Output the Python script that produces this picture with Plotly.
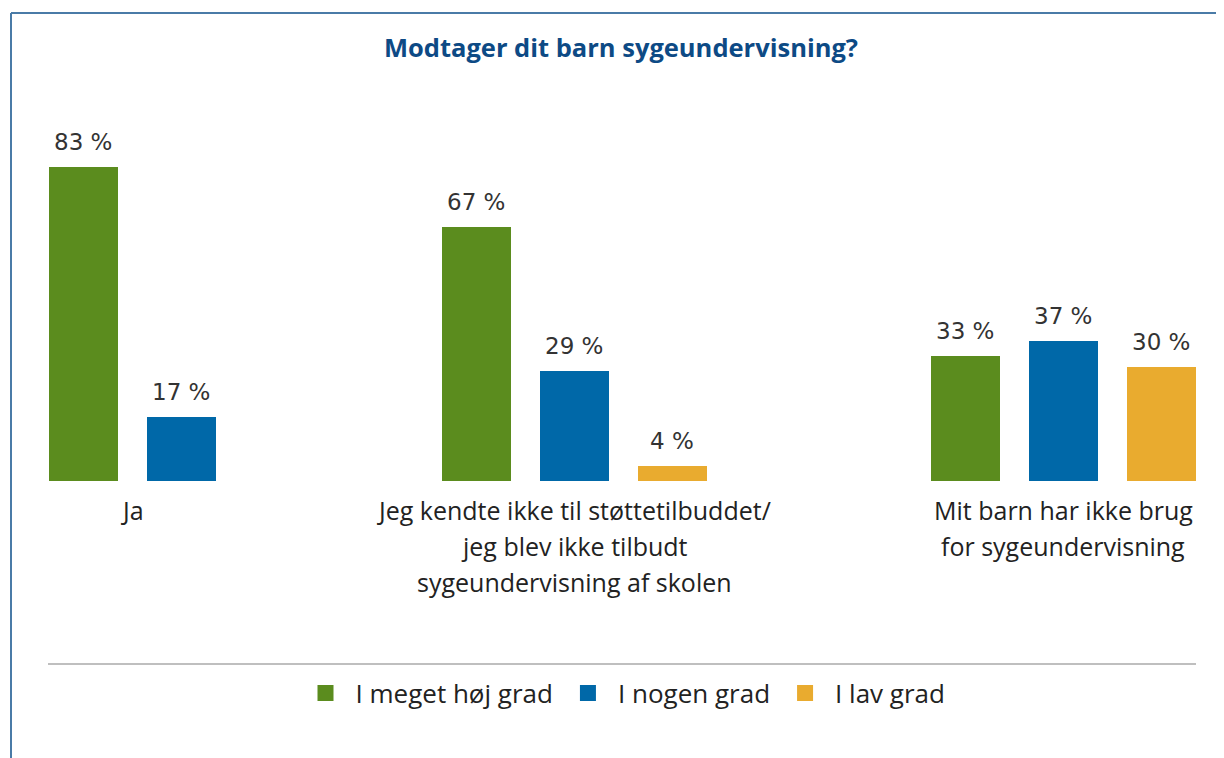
import plotly.graph_objects as go

# ---- data ----
categories = ["Ja",
              "Jeg kendte ikke til støttetilbuddet/<br>jeg blev ikke tilbudt<br>sygeundervisning af skolen",
              "Mit barn har ikke brug<br>for sygeundervisning"]
series_names = ["I meget høj grad", "I nogen grad", "I lav grad"]
green_vals = [83, 67, 33]
blue_vals = [17, 29, 37]
orange_vals = [None, 4, 30]

# ---- layout constants (page pixel coordinates) ----
W, H = 1224, 758
OFF = 8                      # body margin of the html page
FW, FH = W - OFF, H - OFF    # figure size
group_centers = [132, 574, 1063]
pitch = 98
bar_w = 69
colors = ["#5b8c1e", "#0068a8", "#e9ab2f"]
base_px = 481
plot_top = 100
px_per_unit = 3.785

all_series = [green_vals, blue_vals, orange_vals]

plot_h = base_px - plot_top
ymax = plot_h / px_per_unit


def py(pix):
    return (base_px - pix) / plot_h


def px(pix):
    return (pix - OFF) / FW


fig = go.Figure()
annotations = []
for si, (name, vals, col) in enumerate(zip(series_names, all_series, colors)):
    xs, ys = [], []
    for gi, c in enumerate(group_centers):
        present = [s for s in range(len(all_series)) if all_series[s][gi] is not None]
        n = len(present)
        if vals[gi] is None:
            continue
        idx = present.index(si)
        xs.append(c + (idx - (n - 1) / 2) * pitch)
        ys.append(vals[gi])
    fig.add_trace(go.Bar(
        x=xs, y=ys, name=name, width=bar_w, marker=dict(color=col, line=dict(width=0)),
        showlegend=False, legendgroup=name, hoverinfo="skip",
    ))
    for x, y in zip(xs, ys):
        annotations.append(dict(
            x=x, y=y, xref="x", yref="y", text=f"{y} %", showarrow=False,
            xanchor="center", yanchor="bottom", yshift=10,
            font=dict(family="DejaVu Sans", size=23, color="#333333")))
    # legend entry
    fig.add_trace(go.Scatter(
        x=[None], y=[None], mode="markers", name=name, legendgroup=name,
        marker=dict(symbol="square", size=16, color=col), hoverinfo="skip",
    ))

for c, lab in zip(group_centers, categories):
    for li, line in enumerate(lab.split("<br>")):
        annotations.append(dict(
            x=c, xref="x", y=py(510 + 36 * li), yref="paper", text=line,
            showarrow=False, xanchor="center", yanchor="middle",
            font=dict(family="Open Sans", size=25, color="#222222")))

shapes = [
    # frame
    dict(type="line", xref="paper", yref="paper", x0=px(11), x1=1, y0=py(13), y1=py(13),
         line=dict(color="#4a7ba7", width=2)),
    dict(type="line", xref="paper", yref="paper", x0=px(11), x1=px(11), y0=py(13), y1=py(H + 5),
         line=dict(color="#4a7ba7", width=2)),
    # separator
    dict(type="line", xref="paper", yref="paper", x0=px(48), x1=px(1196), y0=py(664), y1=py(664),
         line=dict(color="#aaaaaa", width=1.5)),
]

fig.update_layout(
    width=FW, height=FH,
    margin=dict(l=0, r=0, t=plot_top - OFF, b=H - base_px, pad=0),
    paper_bgcolor="white", plot_bgcolor="white",
    title=dict(text="<b>Modtager dit barn sygeundervisning?</b>", x=px(621), xanchor="center",
               y=1 - (48 - OFF) / FH, yanchor="middle", yref="container",
               font=dict(family="Open Sans", size=25.5, color="#0d4a85")),
    xaxis=dict(range=[OFF, W], visible=False, fixedrange=True),
    yaxis=dict(range=[0, ymax], visible=False, fixedrange=True),
    showlegend=True,
    legend=dict(orientation="h", x=px(623), xanchor="center", y=py(693), yanchor="middle",
                font=dict(family="Open Sans", size=26, color="#222222"),
                itemwidth=50, traceorder="normal", itemclick=False, itemdoubleclick=False),
    annotations=annotations, shapes=shapes,
    bargap=0,
)

fig.write_html("out.html")
